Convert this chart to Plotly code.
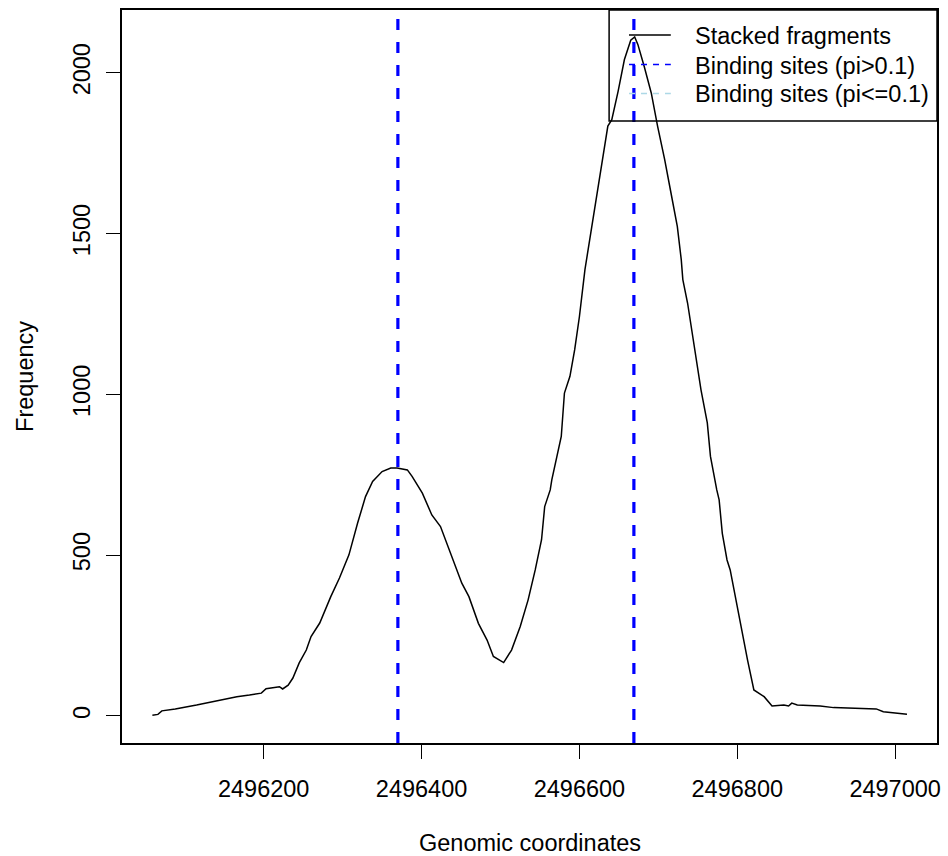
import plotly.graph_objects as go

# ---- data ----
position = [2496059, 2496066, 2496071, 2496088, 2496115, 2496145, 2496166, 2496182, 2496197, 2496203,
            2496214, 2496220, 2496224, 2496231, 2496237, 2496245, 2496254, 2496260, 2496271, 2496285,
            2496296, 2496308, 2496319, 2496329, 2496338, 2496350, 2496361, 2496369, 2496382, 2496388,
            2496401, 2496413, 2496424, 2496434, 2496451, 2496460, 2496472, 2496483, 2496491, 2496504,
            2496514, 2496525, 2496535, 2496544, 2496548, 2496552, 2496556, 2496563, 2496565, 2496571,
            2496577, 2496581, 2496588, 2496594, 2496600, 2496607, 2496611, 2496621, 2496628, 2496636,
            2496641, 2496649, 2496657, 2496665, 2496670, 2496674, 2496682, 2496691, 2496699, 2496708,
            2496716, 2496724, 2496729, 2496731, 2496737, 2496745, 2496754, 2496762, 2496766, 2496774,
            2496777, 2496781, 2496787, 2496791, 2496800, 2496806, 2496813, 2496821, 2496834, 2496844,
            2496859, 2496865, 2496869, 2496876, 2496905, 2496922, 2496976, 2496985, 2497015]
frequency = [2, 5, 16, 22, 34, 50, 60, 65, 71, 85,
             89, 91, 84, 96, 118, 165, 205, 247, 289, 371,
             429, 501, 600, 682, 729, 760, 771, 771, 765, 745,
             693, 625, 589, 522, 413, 371, 288, 236, 185, 166,
             205, 278, 361, 454, 506, 548, 651, 703, 734, 807,
             869, 1004, 1056, 1139, 1242, 1388, 1450, 1605, 1720, 1834,
             1854, 1942, 2041, 2101, 2111, 2088, 2020, 1937, 1834, 1730,
             1626, 1522, 1419, 1357, 1284, 1160, 1014, 911, 807, 703,
             672, 568, 485, 454, 340, 257, 174, 81, 60, 31,
             34, 31, 40, 34, 31, 26, 22, 13, 5]
sites_high = [2496370, 2496669]   # pi > 0.1
sites_low = []                    # pi <= 0.1

x_ticks = [2496200, 2496400, 2496600, 2496800, 2497000]
y_ticks = [0, 500, 1000, 1500, 2000]
legend_labels = ["Stacked fragments", "Binding sites (pi>0.1)", "Binding sites (pi<=0.1)"]
x_title = "Genomic coordinates"
y_title = "Frequency"

FONT = "Liberation Sans, Arial, Helvetica, sans-serif"
FS = 23.5
W, H = 948, 856
ML, MR, MT, MB = 122, 7, 10, 113
PW, PH = W - ML - MR, H - MT - MB


def px(xp):
    return (xp - ML) / PW


def py(yp):
    return (H - MB - yp) / PH


fig = go.Figure()
fig.add_trace(go.Scatter(x=position, y=frequency, mode="lines",
                         line=dict(color="black", width=1.5),
                         showlegend=False, hoverinfo="skip"))

for s in sites_high:
    fig.add_vline(x=s, line=dict(color="#0000ff", width=3.2, dash="11px,12px"))
for s in sites_low:
    fig.add_vline(x=s, line=dict(color="lightblue", width=1.5, dash="6px,6px"))

# manual R-style legend (transparent box in the top-right corner)
shapes = [dict(type="rect", xref="paper", yref="paper", x0=px(611.5), x1=1.0, y0=py(121), y1=1.0,
               line=dict(color="black", width=1.5), fillcolor="rgba(0,0,0,0)")]
leg_rows = [35, 64.5, 93.5]
leg_styles = [dict(color="black", width=1.5),
              dict(color="#0000ff", width=1.5, dash="6px,6px"),
              dict(color="lightblue", width=1.5, dash="6px,6px")]
for r, st in zip(leg_rows, leg_styles):
    shapes.append(dict(type="line", xref="paper", yref="paper", x0=px(631.5), x1=px(673.5),
                       y0=py(r), y1=py(r), line=st))
annotations = []
for r, lab in zip(leg_rows, legend_labels):
    annotations.append(dict(text=lab, xref="paper", yref="paper", x=px(696), y=py(r + 1),
                            xanchor="left", yanchor="middle", showarrow=False,
                            font=dict(family=FONT, size=FS, color="black")))
annotations.append(dict(text=x_title, xref="paper", yref="paper", x=0.5, y=py(843),
                        xanchor="center", yanchor="middle", showarrow=False,
                        font=dict(family=FONT, size=FS, color="black")))
annotations.append(dict(text=y_title, xref="paper", yref="paper", x=px(24), y=0.5,
                        xanchor="center", yanchor="middle", showarrow=False, textangle=-90,
                        font=dict(family=FONT, size=FS, color="black")))

fig.update_layout(
    width=W, height=H,
    margin=dict(l=ML, r=MR, t=MT, b=MB),
    paper_bgcolor="white", plot_bgcolor="white",
    font=dict(family=FONT, size=FS, color="black"),
    showlegend=False,
    shapes=fig.layout.shapes + tuple(shapes),
    annotations=annotations,
)
fig.update_xaxes(range=[2496020.5, 2497053], tickmode="array", tickvals=x_ticks,
                 ticktext=[str(v) for v in x_ticks],
                 showgrid=False, zeroline=False, showline=True, linecolor="black", linewidth=1.5,
                 mirror=True, ticks="outside", ticklen=14, tickwidth=1, tickcolor="black",
                 ticklabelstandoff=10,
                 tickfont=dict(family=FONT, size=FS, color="black"))
fig.update_yaxes(range=[-84, 2195], tickmode="array", tickvals=y_ticks,
                 ticktext=[str(v) for v in y_ticks], tickangle=-90,
                 showgrid=False, zeroline=False, showline=True, linecolor="black", linewidth=1.5,
                 mirror=True, ticks="outside", ticklen=14, tickwidth=1, tickcolor="black",
                 ticklabelstandoff=7,
                 tickfont=dict(family=FONT, size=FS, color="black"))

fig.write_html("out.html",
               config={"displayModeBar": False},
               post_script="document.body.style.margin='0px';document.body.style.overflow='hidden';")
